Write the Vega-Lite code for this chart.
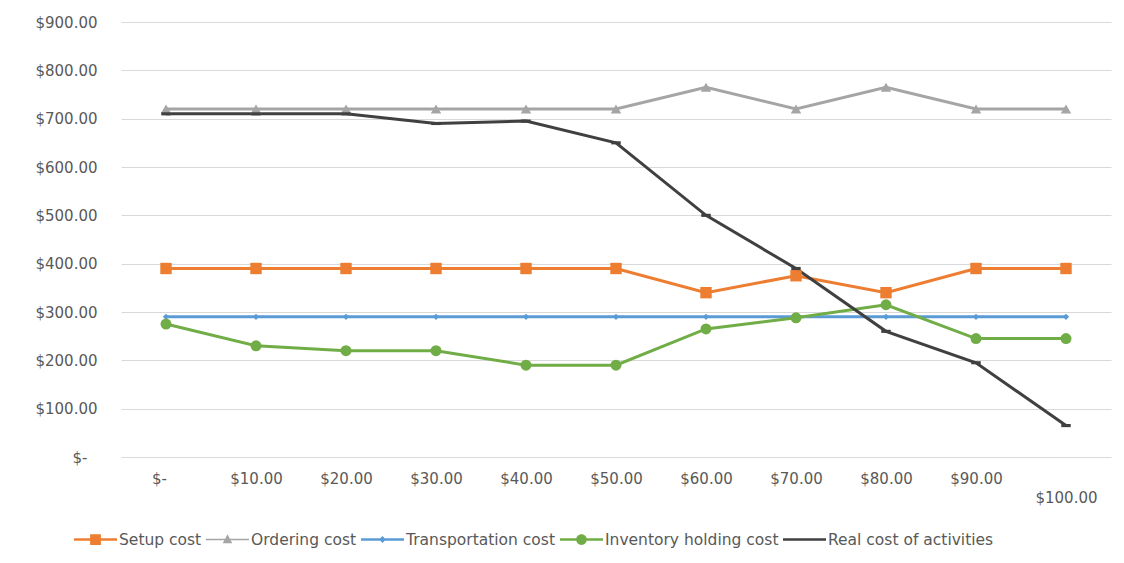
{
  "$schema": "https://vega.github.io/schema/vega-lite/v6.json",
  "autosize": "none",
  "width": 990,
  "height": 435,
  "padding": {"left": 121, "top": 22, "right": 13, "bottom": 106},
  "background": "white",
  "config": {"view": {"stroke": null}},
  "data": {"values": [
    {"x": "$-", "series": "Setup cost", "value": 390},
    {"x": "$10.00", "series": "Setup cost", "value": 390},
    {"x": "$20.00", "series": "Setup cost", "value": 390},
    {"x": "$30.00", "series": "Setup cost", "value": 390},
    {"x": "$40.00", "series": "Setup cost", "value": 390},
    {"x": "$50.00", "series": "Setup cost", "value": 390},
    {"x": "$60.00", "series": "Setup cost", "value": 340},
    {"x": "$70.00", "series": "Setup cost", "value": 375},
    {"x": "$80.00", "series": "Setup cost", "value": 340},
    {"x": "$90.00", "series": "Setup cost", "value": 390},
    {"x": "$100.00", "series": "Setup cost", "value": 390},
    {"x": "$-", "series": "Ordering cost", "value": 720},
    {"x": "$10.00", "series": "Ordering cost", "value": 720},
    {"x": "$20.00", "series": "Ordering cost", "value": 720},
    {"x": "$30.00", "series": "Ordering cost", "value": 720},
    {"x": "$40.00", "series": "Ordering cost", "value": 720},
    {"x": "$50.00", "series": "Ordering cost", "value": 720},
    {"x": "$60.00", "series": "Ordering cost", "value": 765},
    {"x": "$70.00", "series": "Ordering cost", "value": 720},
    {"x": "$80.00", "series": "Ordering cost", "value": 765},
    {"x": "$90.00", "series": "Ordering cost", "value": 720},
    {"x": "$100.00", "series": "Ordering cost", "value": 720},
    {"x": "$-", "series": "Transportation cost", "value": 290},
    {"x": "$10.00", "series": "Transportation cost", "value": 290},
    {"x": "$20.00", "series": "Transportation cost", "value": 290},
    {"x": "$30.00", "series": "Transportation cost", "value": 290},
    {"x": "$40.00", "series": "Transportation cost", "value": 290},
    {"x": "$50.00", "series": "Transportation cost", "value": 290},
    {"x": "$60.00", "series": "Transportation cost", "value": 290},
    {"x": "$70.00", "series": "Transportation cost", "value": 290},
    {"x": "$80.00", "series": "Transportation cost", "value": 290},
    {"x": "$90.00", "series": "Transportation cost", "value": 290},
    {"x": "$100.00", "series": "Transportation cost", "value": 290},
    {"x": "$-", "series": "Inventory holding cost", "value": 275},
    {"x": "$10.00", "series": "Inventory holding cost", "value": 230},
    {"x": "$20.00", "series": "Inventory holding cost", "value": 220},
    {"x": "$30.00", "series": "Inventory holding cost", "value": 220},
    {"x": "$40.00", "series": "Inventory holding cost", "value": 190},
    {"x": "$50.00", "series": "Inventory holding cost", "value": 190},
    {"x": "$60.00", "series": "Inventory holding cost", "value": 265},
    {"x": "$70.00", "series": "Inventory holding cost", "value": 288},
    {"x": "$80.00", "series": "Inventory holding cost", "value": 315},
    {"x": "$90.00", "series": "Inventory holding cost", "value": 245},
    {"x": "$100.00", "series": "Inventory holding cost", "value": 245},
    {"x": "$-", "series": "Real cost of activities", "value": 710},
    {"x": "$10.00", "series": "Real cost of activities", "value": 710},
    {"x": "$20.00", "series": "Real cost of activities", "value": 710},
    {"x": "$30.00", "series": "Real cost of activities", "value": 690},
    {"x": "$40.00", "series": "Real cost of activities", "value": 695},
    {"x": "$50.00", "series": "Real cost of activities", "value": 650},
    {"x": "$60.00", "series": "Real cost of activities", "value": 500},
    {"x": "$70.00", "series": "Real cost of activities", "value": 390},
    {"x": "$80.00", "series": "Real cost of activities", "value": 260},
    {"x": "$90.00", "series": "Real cost of activities", "value": 195},
    {"x": "$100.00", "series": "Real cost of activities", "value": 65}
  ]},
  "encoding": {
    "x": {
      "field": "x", "type": "ordinal", "sort": null,
      "scale": {"type": "point", "padding": 0.5},
      "axis": {
        "title": null, "domain": false, "ticks": false, "grid": false,
        "labelAngle": 0, "labelPadding": 14, "labelOverlap": false,
        "labelFont": "DejaVu Sans", "labelFontSize": 15, "labelColor": "#595959",
        "labelLineHeight": 19,
        "labelOffset": {"condition": {"test": "datum.value == '$-'", "value": -7}, "value": 0},
        "labelExpr": "datum.label == '$100.00' ? ['', '$100.00'] : datum.label"
      }
    },
    "y": {
      "field": "value", "type": "quantitative",
      "scale": {"domain": [0, 900], "nice": false},
      "axis": {
        "title": null, "domain": false, "ticks": false, "grid": true,
        "gridColor": "#D9D9D9", "gridWidth": 1,
        "values": [0, 100, 200, 300, 400, 500, 600, 700, 800, 900],
        "labelPadding": {"condition": {"test": "datum.value == 0", "value": 34}, "value": 24},
        "labelFont": "DejaVu Sans", "labelFontSize": 15, "labelColor": "#595959",
        "labelExpr": "datum.value == 0 ? '$-' : format(datum.value, '$.2f')"
      }
    },
    "color": {
      "field": "series", "type": "nominal",
      "scale": {
        "domain": ["Setup cost", "Ordering cost", "Transportation cost", "Inventory holding cost", "Real cost of activities"],
        "range": ["#ED7D31", "#A5A5A5", "#5B9BD5", "#70AD47", "#404040"]
      },
      "legend": {
        "orient": "none", "legendX": -47, "legendY": 496, "direction": "horizontal",
        "title": null, "symbolSize": 1849, "symbolStrokeWidth": 0, "symbolOpacity": 1,
        "labelFont": "DejaVu Sans", "labelFontSize": 15.5, "labelColor": "#595959",
        "labelLimit": 400, "labelOffset": 2, "columnPadding": 4, "columns": 5,
        "encode": {"symbols": {"update": {
          "fill": {"scale": "color", "field": "value"},
          "strokeWidth": {"value": 0},
          "shape": {"signal": "datum.value === 'Setup cost' ? 'M-1,-0.06H1V0.06H-1Z M-0.25,-0.25H0.25V0.25H-0.25Z' : datum.value === 'Ordering cost' ? 'M-1,-0.04H1V0.04H-1Z M0,-0.24L0.22,0.18H-0.22Z' : datum.value === 'Transportation cost' ? 'M-1,-0.06H1V0.06H-1Z M0,-0.16L0.16,0L0,0.16L-0.16,0Z' : datum.value === 'Inventory holding cost' ? 'M-1,-0.06H1V0.06H-1Z M-0.25,0A0.25,0.25 0 1,1 0.25,0A0.25,0.25 0 1,1 -0.25,0Z' : 'M-1,-0.06H1V0.06H-1Z'"}
        }}}
      }
    }
  },
  "layer": [
    {
      "mark": {"type": "line", "strokeWidth": 3},
      "encoding": {}
    },
    {
      "transform": [{"filter": "datum.series == 'Setup cost'"}],
      "mark": {"type": "point", "filled": true, "opacity": 1, "size": 130, "shape": "square"},
      "encoding": {}
    },
    {
      "transform": [{"filter": "datum.series == 'Ordering cost'"}],
      "mark": {"type": "point", "filled": true, "opacity": 1, "size": 110, "shape": "triangle-up"},
      "encoding": {}
    },
    {
      "transform": [{"filter": "datum.series == 'Transportation cost'"}],
      "mark": {"type": "point", "filled": true, "opacity": 1, "size": 110, "shape": "M0,-0.6L0.6,0L0,0.6L-0.6,0Z"},
      "encoding": {}
    },
    {
      "transform": [{"filter": "datum.series == 'Inventory holding cost'"}],
      "mark": {"type": "point", "filled": true, "opacity": 1, "size": 120, "shape": "circle"},
      "encoding": {}
    },
    {
      "transform": [{"filter": "datum.series == 'Real cost of activities'"}],
      "mark": {"type": "point", "filled": true, "opacity": 1, "size": 110, "shape": "M-0.9,-0.3H0.9V0.3H-0.9Z"},
      "encoding": {}
    }
  ]
}
